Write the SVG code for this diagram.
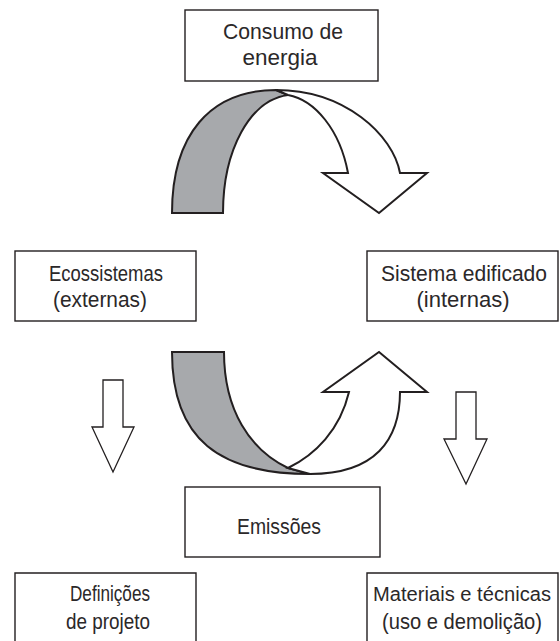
<svg xmlns="http://www.w3.org/2000/svg" width="560" height="641" viewBox="0 0 560 641">
<style>
.box{fill:#fff;stroke:#231f20;stroke-width:1.4}
.t{font-family:"Liberation Sans",Arial,sans-serif;font-size:22px;fill:#2b2829;text-anchor:middle}
.band{stroke:#231f20;stroke-width:2;stroke-linejoin:miter}
.gray{fill:#a7a9ac}
.white{fill:#fff}
.arr{fill:#fff;stroke:#231f20;stroke-width:1.3;stroke-linejoin:miter}
</style>
<rect width="560" height="641" fill="#fff"/>
<g id="connectors">
  <g id="top-ribbon">
    <path class="band gray" d="M172,213 C172,135 210,90 276,90 L288,95 C250,100 223,150 223,213 Z"/>
    <path class="band white" d="M276,90 C345,90 393,135 400,173 L427,173 L379,213 L323,173 L348,173 C340,130 315,100 288,95 Z"/>
  </g>
  <g id="bottom-ribbon">
    <path class="band gray" d="M172,352 C172,440 220,474 310,474 L288,468 C250,450 224,410 224,352 Z"/>
    <path class="band white" d="M310,474 C375,474 400,440 400,392 L427,392 L379,352 L323,392 L349,392 C340,430 315,455 288,468 Z"/>
  </g>
  <path id="arrow-left" class="arr" d="M103,380 L123,380 L123,427 L134,427 L113,472 L92,427 L103,427 Z"/>
  <path id="arrow-right" class="arr" d="M456,392 L476,392 L476,439 L487,439 L466,484 L444,439 L456,439 Z"/>
</g>
<g id="consumo">
  <rect class="box" x="185" y="10" width="193" height="71"/>
  <text class="t" x="283" y="39" textLength="120" lengthAdjust="spacingAndGlyphs">Consumo de</text>
  <text class="t" x="280" y="65" textLength="75" lengthAdjust="spacingAndGlyphs">energia</text>
</g>
<g id="ecossistemas">
  <rect class="box" x="15" y="251" width="181" height="70"/>
  <text class="t" x="106" y="281" textLength="114" lengthAdjust="spacingAndGlyphs">Ecossistemas</text>
  <text class="t" x="100" y="307" textLength="94" lengthAdjust="spacingAndGlyphs">(externas)</text>
</g>
<g id="sistema">
  <rect class="box" x="367" y="251" width="191" height="70"/>
  <text class="t" x="464" y="281" textLength="166" lengthAdjust="spacingAndGlyphs">Sistema edificado</text>
  <text class="t" x="463" y="307" textLength="93" lengthAdjust="spacingAndGlyphs">(internas)</text>
</g>
<g id="emissoes">
  <rect class="box" x="185" y="487" width="195" height="70"/>
  <text class="t" x="279" y="534" textLength="84" lengthAdjust="spacingAndGlyphs">Emissões</text>
</g>
<g id="definicoes">
  <path class="box" d="M15,641 V573 H196 V641"/>
  <text class="t" x="110" y="601" textLength="80" lengthAdjust="spacingAndGlyphs">Definições</text>
  <text class="t" x="108" y="629" textLength="84" lengthAdjust="spacingAndGlyphs">de projeto</text>
</g>
<g id="materiais">
  <path class="box" d="M367,641 V573 H558 V641"/>
  <text class="t" x="462" y="601" font-size="20" textLength="178" lengthAdjust="spacingAndGlyphs" style="font-size:20px">Materiais e técnicas</text>
  <text class="t" x="462" y="629" textLength="160" lengthAdjust="spacingAndGlyphs">(uso e demolição)</text>
</g>
</svg>
